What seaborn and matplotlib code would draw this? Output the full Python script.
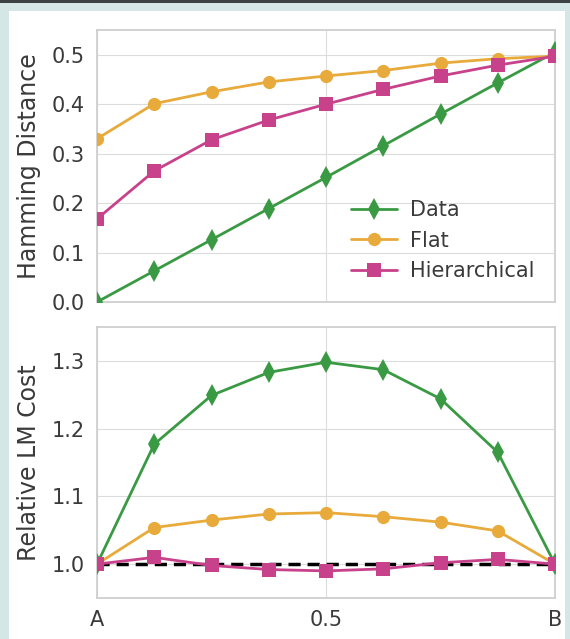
import numpy as np
import pandas as pd
import seaborn as sns
import matplotlib.pyplot as plt
from matplotlib.patches import Rectangle

# interpolation positions between A and B
steps = [0, 0.125, 0.25, 0.375, 0.5, 0.625, 0.75, 0.875, 1.0]
series = ["Data", "Flat", "Hierarchical"]

ham_data = [0.0, 0.063, 0.126, 0.189, 0.252, 0.316, 0.380, 0.443, 0.505]
ham_flat = [0.330, 0.401, 0.425, 0.445, 0.457, 0.468, 0.483, 0.492, 0.497]
ham_hier = [0.168, 0.265, 0.328, 0.368, 0.400, 0.430, 0.457, 0.479, 0.497]

lm_data = [1.0, 1.177, 1.249, 1.283, 1.298, 1.287, 1.244, 1.165, 1.0]
lm_flat = [1.0, 1.054, 1.065, 1.074, 1.076, 1.070, 1.062, 1.049, 1.0]
lm_hier = [1.0, 1.010, 0.998, 0.992, 0.990, 0.993, 1.002, 1.007, 1.0]

xtick_pos = [0, 0.5, 1]
xtick_labels = ["A", "0.5", "B"]

colors = {"Data": "#3a9a44", "Flat": "#e8aa3a", "Hierarchical": "#c8418b"}
markers = {"Data": "d", "Flat": "o", "Hierarchical": "s"}
msizes = {"Data": 11, "Flat": 9.5, "Hierarchical": 9.5}


def long_df(vals):
    rows = []
    for name, v in zip(series, vals):
        for x, y in zip(steps, v):
            rows.append({"x": x, "y": y, "method": name})
    return pd.DataFrame(rows)


top_df = long_df([ham_data, ham_flat, ham_hier])
bot_df = long_df([lm_data, lm_flat, lm_hier])

sns.set_style("whitegrid", {"grid.color": "#dcdcdc", "axes.edgecolor": "#cfcfcf"})
plt.rcParams["font.family"] = ["DejaVu Sans"]

fig = plt.figure(figsize=(5.7, 6.39), dpi=100)
fig.patch.set_facecolor("#d4e6e5")
fig.patches.append(Rectangle((9 / 570, 0), 556 / 570, 628 / 639, transform=fig.transFigure,
                             facecolor="white", edgecolor="none", zorder=-10))
fig.patches.append(Rectangle((0, 636 / 639), 1, 3 / 639, transform=fig.transFigure,
                             facecolor="#3c4242", edgecolor="none", zorder=-10))

ax1 = fig.add_axes([97 / 570, 1 - 302 / 639, 458 / 570, 272 / 639])
ax2 = fig.add_axes([97 / 570, 1 - 598 / 639, 458 / 570, 271 / 639])

for ax, df in [(ax1, top_df), (ax2, bot_df)]:
    for name in series:
        sub = df[df["method"] == name]
        sns.lineplot(data=sub, x="x", y="y", ax=ax, color=colors[name], marker=markers[name],
                     markersize=msizes[name], markeredgewidth=0, linewidth=2.0,
                     label=name, zorder=3)

ax2.axhline(1.0, color="black", linestyle=(0, (3.5, 2)), linewidth=2.5, zorder=2)

ax1.set_xlim(0, 1)
ax1.set_ylim(0, 0.55)
ax1.set_yticks([0.0, 0.1, 0.2, 0.3, 0.4, 0.5])
ax1.set_xticks(xtick_pos)
ax1.set_xticklabels([])
ax1.set_xlabel("")
ax1.set_ylabel("Hamming Distance", fontsize=17, color="#3a3a3a", labelpad=8)
ax1.legend(loc="lower right", frameon=False, fontsize=15,
           handlelength=2.2, handletextpad=0.6, labelspacing=0.5, borderaxespad=0.6,
           labelcolor="#3a3a3a")

ax2.set_xlim(0, 1)
ax2.set_ylim(0.95, 1.35)
ax2.set_yticks([1.0, 1.1, 1.2, 1.3])
ax2.set_xticks(xtick_pos)
ax2.set_xticklabels(xtick_labels)
ax2.set_xlabel("")
ax2.set_ylabel("Relative LM Cost", fontsize=17, color="#3a3a3a", labelpad=8)
if ax2.get_legend():
    ax2.get_legend().remove()

for ax in [ax1, ax2]:
    ax.tick_params(labelsize=15, colors="#3a3a3a", pad=5)
    for s in ax.spines.values():
        s.set_linewidth(1.3)

fig.savefig("out.png", dpi=100, facecolor=fig.get_facecolor())
